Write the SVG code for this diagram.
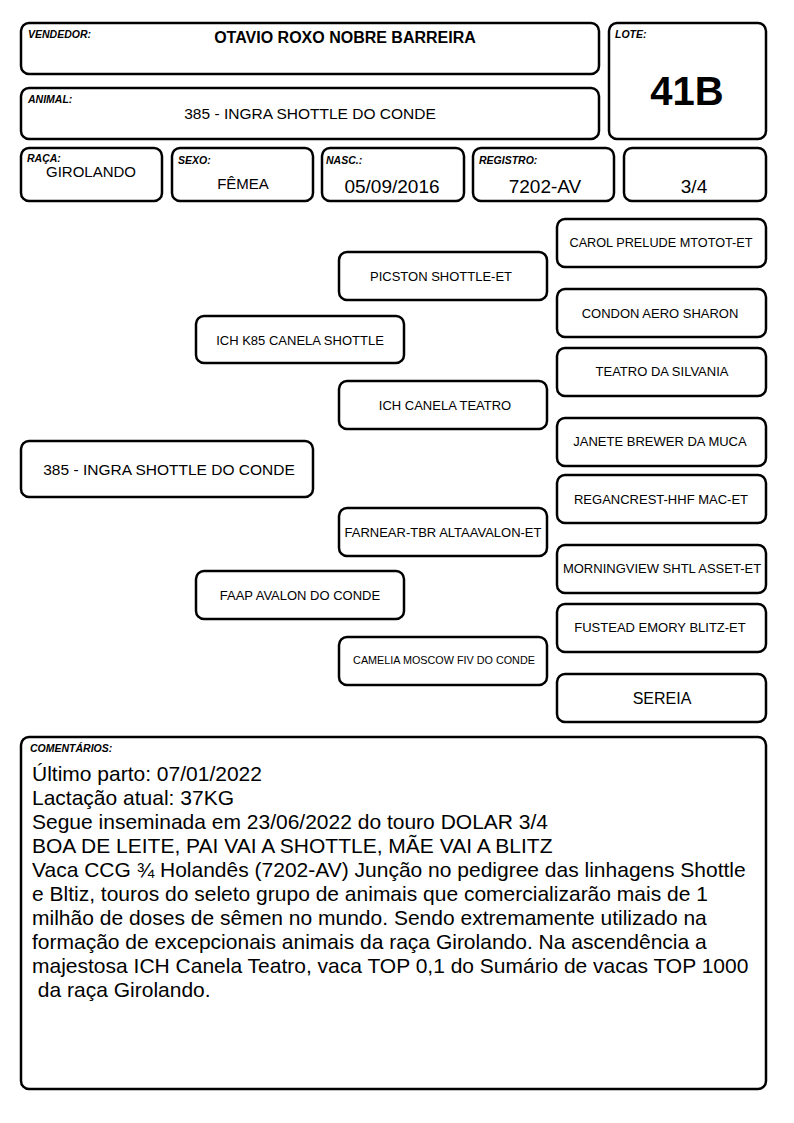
<svg xmlns="http://www.w3.org/2000/svg" width="794" height="1123" viewBox="0 0 794 1123">
<style>
.b{fill:#fff;stroke:#000;stroke-width:2.5}
.lb{font-family:"Liberation Sans",Arial,sans-serif;font-size:10.5px;font-weight:bold;font-style:italic}
.t{font-family:"Liberation Sans",Arial,sans-serif;fill:#000;text-anchor:middle}
.p{font-family:"Liberation Sans",Arial,sans-serif;font-size:13px;text-anchor:middle}
.c{font-family:"Liberation Sans",Arial,sans-serif;font-size:21px}
</style>
<rect width="794" height="1123" fill="#fff"/>
<g id="vendedor"><rect class="b" x="21" y="23" width="578" height="51" rx="8"/><text class="lb" x="28" y="38">VENDEDOR:</text><text class="t" x="345" y="43" font-size="16" font-weight="bold">OTAVIO ROXO NOBRE BARREIRA</text></g>
<g id="lote"><rect class="b" x="609" y="23" width="157" height="116" rx="8"/><text class="lb" x="615" y="38">LOTE:</text><text class="t" x="687" y="105" font-size="40" font-weight="bold">41B</text></g>
<g id="animal"><rect class="b" x="21" y="88" width="578" height="51" rx="8"/><text class="lb" x="28" y="103">ANIMAL:</text><text class="t" x="310" y="119" font-size="15.5">385 - INGRA SHOTTLE DO CONDE</text></g>
<g id="raca"><rect class="b" x="21" y="148" width="141" height="53" rx="8"/><text class="lb" x="27" y="162">RAÇA:</text><text class="t" x="91" y="177" font-size="15">GIROLANDO</text></g>
<g id="sexo"><rect class="b" x="172" y="148" width="141" height="53" rx="8"/><text class="lb" x="178" y="164">SEXO:</text><text class="t" x="243" y="189" font-size="15">FÊMEA</text></g>
<g id="nasc"><rect class="b" x="322" y="148" width="142" height="53" rx="8"/><text class="lb" x="326" y="164">NASC.:</text><text class="t" x="392" y="193" font-size="19">05/09/2016</text></g>
<g id="registro"><rect class="b" x="473" y="148" width="141" height="53" rx="8"/><text class="lb" x="479" y="164">REGISTRO:</text><text class="t" x="545" y="193" font-size="19">7202-AV</text></g>
<g id="grau"><rect class="b" x="624" y="148" width="142" height="53" rx="8"/><text class="t" x="694" y="193" font-size="19">3/4</text></g>
<g id="connectors"></g>
<g id="g0"><rect class="b" x="21" y="441" width="292" height="56" rx="8"/><text class="t" x="169" y="475" font-size="15.5">385 - INGRA SHOTTLE DO CONDE</text></g>
<g id="pai"><rect class="b" x="196" y="316" width="208" height="47" rx="8"/><text class="p" x="300" y="345">ICH K85 CANELA SHOTTLE</text></g>
<g id="mae"><rect class="b" x="196" y="571" width="208" height="48" rx="8"/><text class="p" x="300" y="600">FAAP AVALON DO CONDE</text></g>
<g id="avo1"><rect class="b" x="339" y="252" width="208" height="48" rx="8"/><text class="p" x="441" y="281">PICSTON SHOTTLE-ET</text></g>
<g id="avo2"><rect class="b" x="339" y="381" width="208" height="48" rx="8"/><text class="p" x="445" y="410">ICH CANELA TEATRO</text></g>
<g id="avo3"><rect class="b" x="339" y="508" width="208" height="48" rx="8"/><text class="p" x="443" y="537">FARNEAR-TBR ALTAAVALON-ET</text></g>
<g id="avo4"><rect class="b" x="339" y="637" width="208" height="48" rx="8"/><text class="p" x="444" y="664" style="font-size:10.8px">CAMELIA MOSCOW FIV DO CONDE</text></g>
<g id="b1"><rect class="b" x="557" y="219" width="209" height="48" rx="8"/><text class="p" x="661" y="247" style="font-size:12.7px">CAROL PRELUDE MTOTOT-ET</text></g>
<g id="b2"><rect class="b" x="557" y="289" width="209" height="48" rx="8"/><text class="p" x="660" y="318">CONDON AERO SHARON</text></g>
<g id="b3"><rect class="b" x="557" y="348" width="209" height="48" rx="8"/><text class="p" x="662" y="376">TEATRO DA SILVANIA</text></g>
<g id="b4"><rect class="b" x="557" y="418" width="209" height="48" rx="8"/><text class="p" x="660" y="446">JANETE BREWER DA MUCA</text></g>
<g id="b5"><rect class="b" x="557" y="475" width="209" height="48" rx="8"/><text class="p" x="661" y="504">REGANCREST-HHF MAC-ET</text></g>
<g id="b6"><rect class="b" x="557" y="545" width="209" height="48" rx="8"/><text class="p" x="662" y="573">MORNINGVIEW SHTL ASSET-ET</text></g>
<g id="b7"><rect class="b" x="557" y="604" width="209" height="48" rx="8"/><text class="p" x="660" y="632">FUSTEAD EMORY BLITZ-ET</text></g>
<g id="b8"><rect class="b" x="557" y="674" width="209" height="48" rx="8"/><text class="t" x="662" y="704" font-size="16">SEREIA</text></g>
<g id="comentarios"><rect class="b" x="21" y="737" width="745" height="352" rx="8"/><text class="lb" x="30" y="752">COMENTÁRIOS:</text>
<text class="c" x="32"><tspan x="32" y="781">Último parto: 07/01/2022</tspan><tspan x="32" y="805">Lactação atual: 37KG</tspan><tspan x="32" y="829">Segue inseminada em 23/06/2022 do touro DOLAR 3/4</tspan><tspan x="32" y="853">BOA DE LEITE, PAI VAI A SHOTTLE, MÃE VAI A BLITZ</tspan><tspan x="32" y="877">Vaca CCG ¾ Holandês (7202-AV) Junção no pedigree das linhagens Shottle</tspan><tspan x="32" y="901">e Bltiz, touros do seleto grupo de animais que comercializarão mais de 1</tspan><tspan x="32" y="925">milhão de doses de sêmen no mundo. Sendo extremamente utilizado na</tspan><tspan x="32" y="949">formação de excepcionais animais da raça Girolando. Na ascendência a</tspan><tspan x="32" y="973">majestosa ICH Canela Teatro, vaca TOP 0,1 do Sumário de vacas TOP 1000</tspan><tspan x="32" y="997"> da raça Girolando.</tspan></text></g>
</svg>
